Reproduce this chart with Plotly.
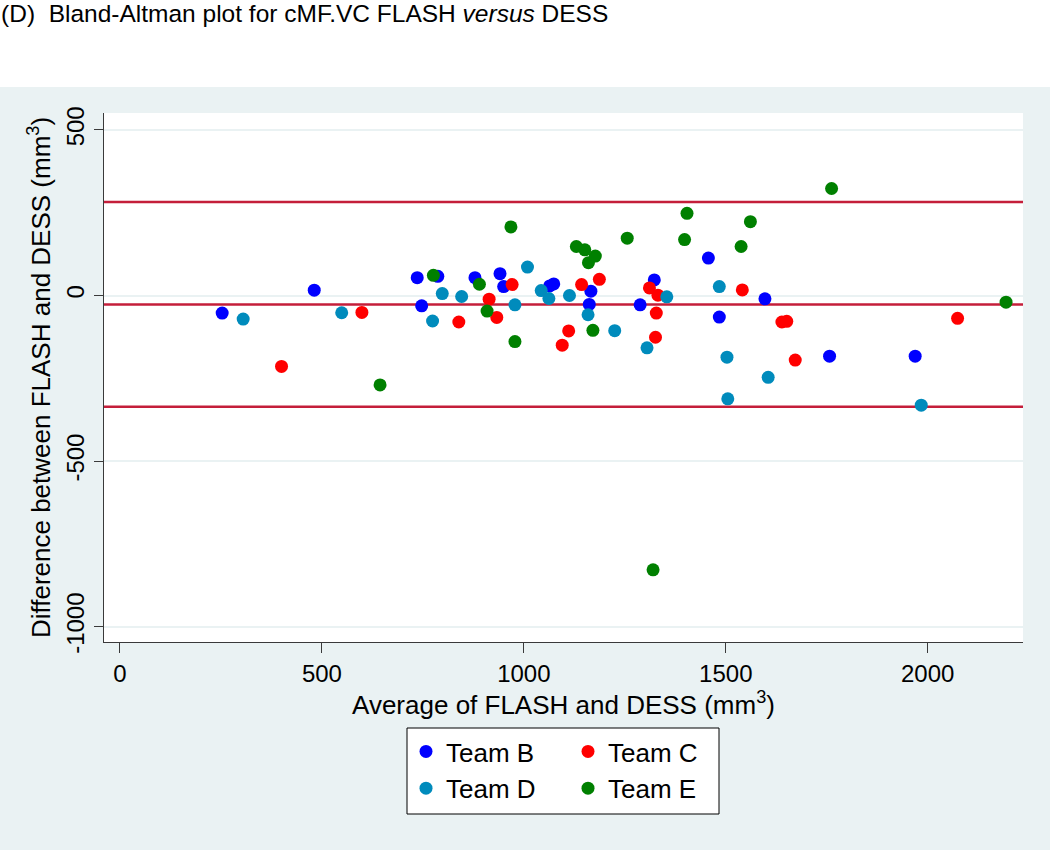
import plotly.graph_objects as go

# ---------------- data ----------------
team_b_avg = [253, 481, 736, 787, 747, 879, 941, 950, 1064, 1074, 1166, 1162, 1288, 1323, 1457, 1597, 1484, 1757, 1969]
team_b_diff = [-53, 16, 54, 58, -31, 54, 66, 27, 29, 35, 13, -27, -28, 47, 113, -10, -65, -183, -183]

team_c_avg = [599, 400, 839, 914, 933, 971, 1143, 1187, 1111, 1095, 1311, 1332, 1328, 1326, 1541, 1639, 1651, 1672, 2074]
team_c_diff = [-51, -214, -80, -11, -66, 33, 33, 49, -107, -150, 23, 1, -53, -126, 17, -80, -78, -195, -69]

team_d_avg = [305, 549, 798, 774, 846, 978, 1009, 1043, 1062, 1113, 1159, 1225, 1354, 1305, 1484, 1503, 1605, 1505, 1984]
team_d_diff = [-71, -52, 6, -77, -3, -28, 86, 15, -9, 0, -58, -106, -4, -158, 27, -186, -247, -312, -331]

team_e_avg = [644, 776, 890, 909, 968, 978, 1130, 1151, 1177, 1160, 1171, 1256, 1398, 1404, 1561, 1538, 1762, 2194, 1320]
team_e_diff = [-270, 61, 34, -47, 207, -139, 148, 138, 119, 99, -105, 173, 169, 248, 223, 148, 323, -20, -828]

team_names = ["Team B", "Team C", "Team D", "Team E"]

mean_diff = -27
upper_loa = 282
lower_loa = -336

x_tickvals = [0, 500, 1000, 1500, 2000]
x_ticktext = ["0", "500", "1000", "1500", "2000"]
y_tickvals = [500, 0, -500, -1000]
y_ticktext = ["500", "0", "-500", "-1000"]

# ---------------- styling ----------------
FONT = "Arial, Liberation Sans, sans-serif"
BG = "#EAF2F3"
colors = ["#0000FF", "#FF0000", "#008BBC", "#008000"]
legend_ids = ["legend", "legend2", "legend", "legend2"]

W, H = 1050, 850
L, R, T, B = 104, 27, 113, 208
pw, ph = W - L - R, H - T - B


def px_x(p):
    return (p - L) / pw


def px_y(p):
    return (H - B - p) / ph


fig = go.Figure()

series = [(team_b_avg, team_b_diff), (team_c_avg, team_c_diff),
          (team_d_avg, team_d_diff), (team_e_avg, team_e_diff)]
for (xs, ys), name, col, lg in zip(series, team_names, colors, legend_ids):
    fig.add_trace(go.Scatter(
        x=xs, y=ys, mode="markers", name=name, legend=lg,
        marker=dict(color=col, size=13, line=dict(width=0)),
    ))

for yv in [upper_loa, mean_diff, lower_loa]:
    fig.add_hline(y=yv, line=dict(color="#C41E3A", width=2.5), layer="below")

# white band above graph region (title area)
fig.add_shape(type="rect", xref="paper", yref="paper",
              x0=px_x(-5), x1=px_x(W + 5), y0=px_y(87), y1=px_y(-5),
              fillcolor="white", line=dict(width=0), layer="below")
# legend box
fig.add_shape(type="rect", xref="paper", yref="paper",
              x0=px_x(407), x1=px_x(719), y0=px_y(814), y1=px_y(728),
              fillcolor="white", line=dict(color="black", width=1), layer="below")

legend_common = dict(
    font=dict(family=FONT, size=26, color="black"),
    bgcolor="rgba(0,0,0,0)", borderwidth=0,
    orientation="v", xanchor="left", yanchor="top",
    itemclick=False, itemdoubleclick=False,
    tracegroupgap=0,
)

fig.update_layout(
    width=W, height=H,
    margin=dict(l=L, r=R, t=T, b=B, pad=0),
    paper_bgcolor=BG, plot_bgcolor="white",
    font=dict(family=FONT, size=24, color="black"),
    title=dict(
        text="(D)&nbsp; Bland-Altman plot for cMF.VC FLASH <i>versus</i> DESS",
        xref="container", yref="container", x=0.001, xanchor="left",
        y=1 - 13 / H, yanchor="middle",
        font=dict(family=FONT, size=24.5, color="black"),
    ),
    showlegend=True,
    legend=dict(x=px_x(406), y=px_y(728), **legend_common),
    legend2=dict(x=px_x(568), y=px_y(728), **legend_common),
    xaxis=dict(
        range=[-39.6, 2236], tickvals=x_tickvals, ticktext=x_ticktext,
        showgrid=False, zeroline=False,
        showline=True, linecolor="#3a3a3a", linewidth=1.2,
        ticks="outside", ticklen=10, tickwidth=1.2, tickcolor="#3a3a3a",
        tickfont=dict(family=FONT, size=24, color="black"),
        title=dict(text="Average of FLASH and DESS (mm<sup>3</sup>)",
                   font=dict(family=FONT, size=26, color="black"), standoff=2),
    ),
    yaxis=dict(
        range=[-1046, 551], tickvals=y_tickvals, ticktext=y_ticktext,
        showgrid=True, gridcolor=BG, gridwidth=2, zeroline=False,
        showline=True, linecolor="#3a3a3a", linewidth=1.2,
        ticks="outside", ticklen=9, tickwidth=1.2, tickcolor="#3a3a3a",
        tickangle=-90,
        tickfont=dict(family=FONT, size=24, color="black"),
        title=dict(text="Difference between FLASH and DESS (mm<sup>3</sup>)",
                   font=dict(family=FONT, size=26, color="black"), standoff=4),
    ),
)

fig.write_html("out.html", config={"displayModeBar": False},
               post_script="document.body.style.margin='0';")
